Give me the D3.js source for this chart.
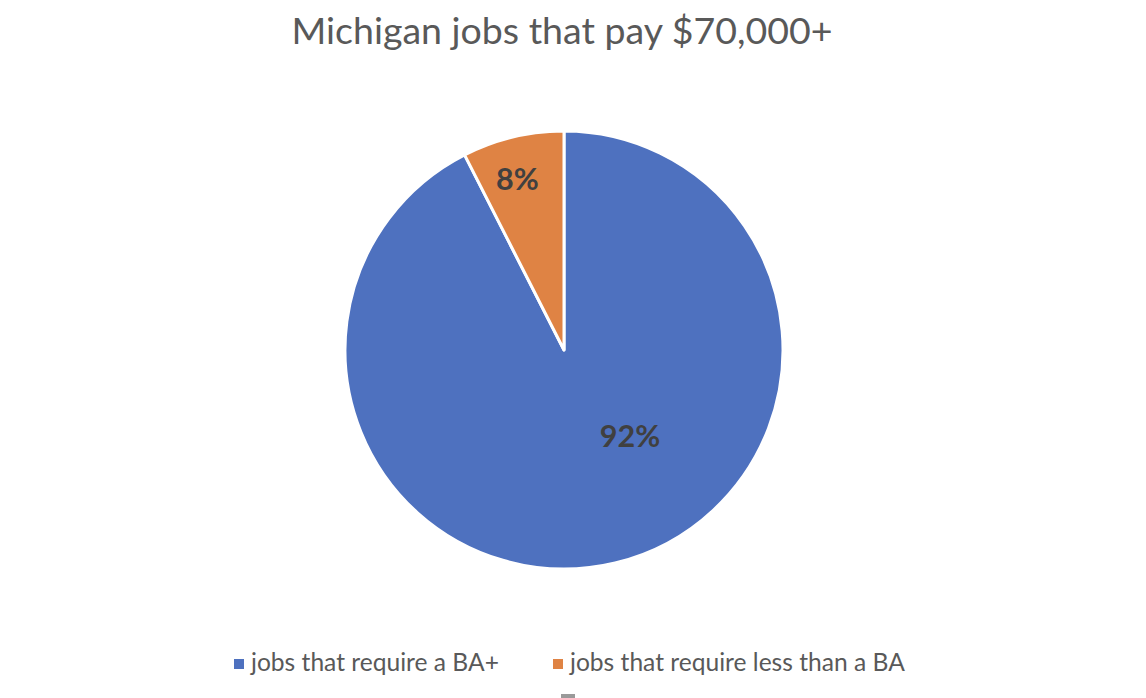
<!DOCTYPE html>
<html><head><meta charset="utf-8">
<script src="https://cdn.jsdelivr.net/npm/d3@7"></script>
<style>html,body{margin:0;padding:0;background:#fff;}svg{display:block;}</style>
</head><body>
<svg id="chart" width="1146" height="698"></svg>
<script>
const title = "Michigan jobs that pay $70,000+";
const categories = ["jobs that require a BA+", "jobs that require less than a BA"];
const values = [92.5, 7.5];
const labels = ["92%", "8%"];
const colors = ["#4E71BF", "#DF8344"];

const W = 1146, H = 698;
const svg = d3.select("#chart");
const cx = 564, cy = 350, R = 219;
const FONT = "Lato, 'Open Sans', sans-serif";

svg.append("text").attr("x", 562).attr("y", 44).attr("text-anchor", "middle")
  .attr("font-family", FONT).attr("font-size", 37.5)
  .attr("fill", "#595959").text(title);

const data = categories.map((c, i) => ({cat: c, value: values[i], label: labels[i], color: colors[i]}));
const pie = d3.pie().sort(null).value(d => d.value);
const arcs = pie(data);
const arc = d3.arc().innerRadius(0).outerRadius(R);

const g = svg.append("g").attr("transform", `translate(${cx},${cy})`);
g.selectAll("path").data(arcs).join("path")
  .attr("d", arc).attr("fill", d => d.data.color)
  .attr("stroke", "#fff").attr("stroke-width", 3).attr("stroke-linejoin", "round");

// label placement: small slice along mid-angle, big slice at best-fit angle
const labelRadius = [0.495, 0.81];
const labelAngleShift = [-0.419, -0.03];
g.selectAll("text.lbl").data(arcs).join("text").attr("class", "lbl")
  .attr("transform", (d, i) => {
    const a = (d.startAngle + d.endAngle) / 2 + labelAngleShift[i];
    const r = R * labelRadius[i];
    return `translate(${Math.sin(a) * r},${-Math.cos(a) * r})`;
  })
  .attr("text-anchor", "middle").attr("dy", "0.36em")
  .attr("font-family", FONT).attr("font-weight", "bold")
  .attr("font-size", 30.5).attr("fill", "#404040").text(d => d.data.label);

// legend
const legendX = [234, 553];
const lg = svg.append("g");
data.forEach((d, i) => {
  lg.append("rect").attr("x", legendX[i]).attr("y", 659).attr("width", 10).attr("height", 10).attr("fill", d.color);
  lg.append("text").attr("x", legendX[i] + 17).attr("y", 671)
    .attr("font-family", FONT).attr("font-size", 24.6)
    .attr("fill", "#595959").text(d.cat);
});
lg.append("rect").attr("x", 561).attr("y", 694).attr("width", 14).attr("height", 4).attr("fill", "#9a9a9a");
</script>
</body></html>
